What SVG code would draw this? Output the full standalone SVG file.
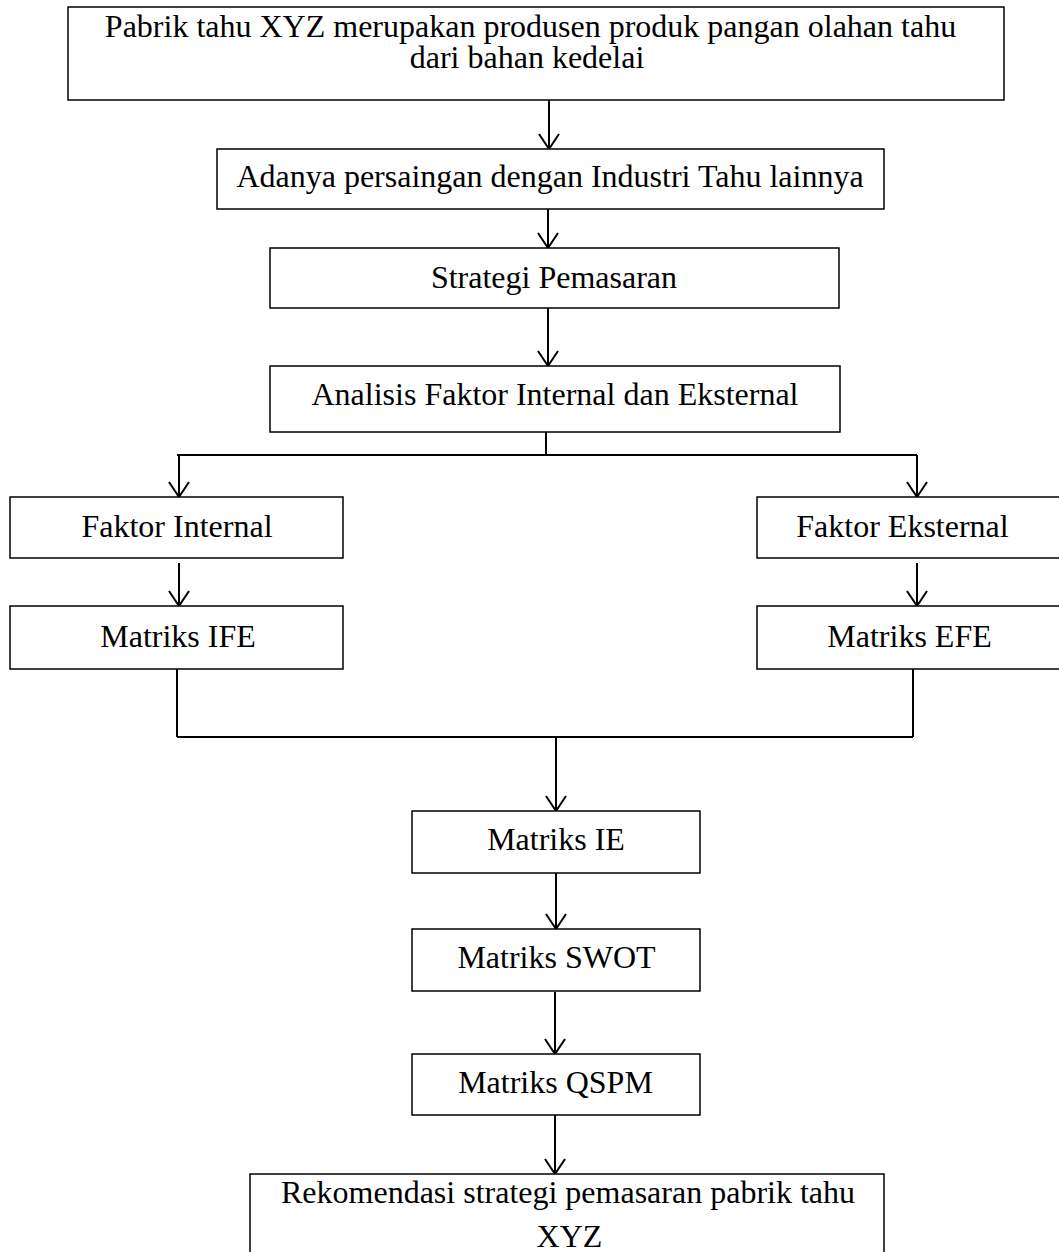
<svg xmlns="http://www.w3.org/2000/svg" width="1059" height="1252" viewBox="0 0 1059 1252">
<style>
.box{fill:#fff;stroke:#000;stroke-width:1.5}
.t{font-family:"Liberation Serif","Times New Roman",serif;font-size:32px;fill:#000;text-anchor:middle}
.ln{fill:none;stroke:#000;stroke-width:2}
.ar{fill:none;stroke:#000;stroke-width:2;marker-end:url(#ah)}
</style>
<defs>
<marker id="ah" markerUnits="userSpaceOnUse" viewBox="-17 -12 19 24" markerWidth="19" markerHeight="24" refX="0" refY="0" orient="auto">
<path d="M-15,-10 L0,0 L-15,10" fill="none" stroke="#000" stroke-width="2"/>
</marker>
</defs>
<rect width="1059" height="1252" fill="#fff"/>
<g id="connectors">
<line class="ar" x1="549" y1="100" x2="549" y2="149"/>
<line class="ar" x1="548" y1="209" x2="548" y2="248"/>
<line class="ar" x1="548" y1="308" x2="548" y2="366"/>
<line class="ln" x1="546" y1="432" x2="546" y2="455"/>
<line class="ln" x1="177" y1="455" x2="917" y2="455"/>
<line class="ar" x1="179" y1="455" x2="179" y2="497"/>
<line class="ar" x1="917" y1="455" x2="917" y2="497"/>
<line class="ar" x1="179" y1="563" x2="179" y2="606"/>
<line class="ar" x1="917" y1="563" x2="917" y2="606"/>
<line class="ln" x1="177" y1="669" x2="177" y2="737" stroke-width="1.5"/>
<line class="ln" x1="913" y1="669" x2="913" y2="737" stroke-width="1.5"/>
<line class="ln" x1="177" y1="737" x2="913" y2="737"/>
<line class="ar" x1="556" y1="737" x2="556" y2="811"/>
<line class="ar" x1="556" y1="871" x2="556" y2="929"/>
<line class="ar" x1="555" y1="992" x2="555" y2="1054"/>
<line class="ar" x1="555" y1="1115" x2="555" y2="1174"/>
</g>
<g id="n1"><rect class="box" x="68" y="7" width="936" height="93"/>
<text class="t" x="530.5" y="37">Pabrik tahu XYZ merupakan produsen produk pangan olahan tahu</text>
<text class="t" x="527" y="68">dari bahan kedelai</text></g>
<g id="n2"><rect class="box" x="217" y="149" width="667" height="60"/>
<text class="t" x="550" y="186.5">Adanya persaingan dengan Industri Tahu lainnya</text></g>
<g id="n3"><rect class="box" x="270" y="248" width="569" height="60"/>
<text class="t" x="554" y="288">Strategi Pemasaran</text></g>
<g id="n4"><rect class="box" x="270" y="366" width="570" height="66"/>
<text class="t" x="555" y="405">Analisis Faktor Internal dan Eksternal</text></g>
<g id="n5"><rect class="box" x="10" y="497" width="333" height="61"/>
<text class="t" x="177" y="537">Faktor Internal</text></g>
<g id="n6"><rect class="box" x="757" y="497" width="340" height="61"/>
<text class="t" x="902.5" y="537">Faktor Eksternal</text></g>
<g id="n7"><rect class="box" x="10" y="606" width="333" height="63"/>
<text class="t" x="178" y="647">Matriks IFE</text></g>
<g id="n8"><rect class="box" x="757" y="606" width="340" height="63"/>
<text class="t" x="909.5" y="647">Matriks EFE</text></g>
<g id="n9"><rect class="box" x="412" y="811" width="288" height="62"/>
<text class="t" x="556" y="850">Matriks IE</text></g>
<g id="n10"><rect class="box" x="412" y="929" width="288" height="62"/>
<text class="t" x="556.5" y="968">Matriks SWOT</text></g>
<g id="n11"><rect class="box" x="412" y="1054" width="288" height="61"/>
<text class="t" x="555.5" y="1092.5">Matriks QSPM</text></g>
<g id="n12"><rect class="box" x="250" y="1174" width="634" height="100"/>
<text class="t" x="568" y="1203">Rekomendasi strategi pemasaran pabrik tahu</text>
<text class="t" x="569.5" y="1247">XYZ</text></g>
</svg>
